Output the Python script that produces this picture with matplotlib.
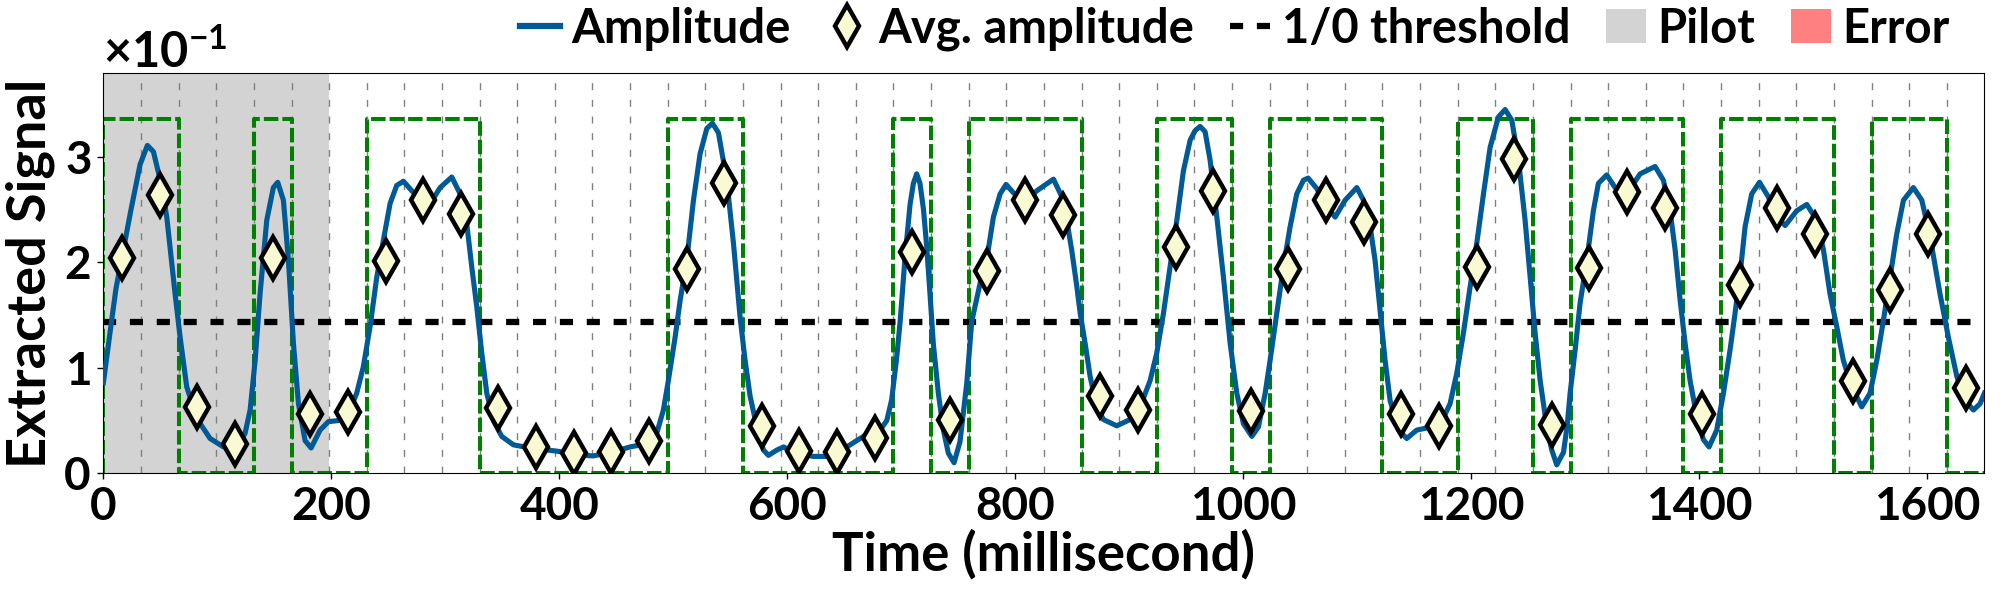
import numpy as np
import matplotlib
matplotlib.use('Agg')
import matplotlib.pyplot as plt
from matplotlib.lines import Line2D
from matplotlib.patches import Patch
from matplotlib.ticker import ScalarFormatter, MultipleLocator

FONT = 'Lato'
plt.rcParams['font.family'] = [FONT, 'DejaVu Sans']
plt.rcParams['font.weight'] = 'bold'
plt.rcParams['mathtext.fontset'] = 'custom'
plt.rcParams['mathtext.rm'] = FONT + ':bold'
plt.rcParams['mathtext.bf'] = FONT + ':bold'
plt.rcParams['mathtext.default'] = 'rm'

# ---------------- data ----------------
UNIT = 1e-1                 # values below are in units of 10^-1
BIT_MS = 33.0               # bit duration (ms)
PILOT_BITS = 6
X_MAX = 1650
Y_MAX = 3.8
THRESHOLD = 1.436
GT_HIGH = 3.36

BITS = [1, 1, 0, 0, 1, 0, 0, 1, 1, 1,
        0, 0, 0, 0, 0, 1, 1, 0, 0, 0,
        0, 1, 0, 1, 1, 1, 0, 0, 1, 1,
        0, 1, 1, 1, 0, 0, 1, 1, 0, 1,
        1, 1, 0, 1, 1, 1, 0, 1, 1, 0]

AVG_AMP = [2.04, 2.64, 0.63, 0.28, 2.04, 0.56, 0.58, 2.01, 2.59, 2.46,
           0.62, 0.25, 0.19, 0.20, 0.31, 1.94, 2.75, 0.45, 0.21, 0.20,
           0.33, 2.10, 0.51, 1.92, 2.59, 2.45, 0.73, 0.60, 2.15, 2.68,
           0.59, 1.94, 2.59, 2.38, 0.56, 0.45, 1.96, 2.98, 0.46, 1.95,
           2.67, 2.52, 0.56, 1.79, 2.52, 2.27, 0.88, 1.74, 2.27, 0.81]

AMP_T = [0, 6.0, 11.0, 16.1, 24.2, 32.2, 38.6, 43.9, 51.2, 55.6, 62.9, 67.3, 73.1,
         81.9, 93.6, 105.3, 117.0, 124.3, 128.7, 133.1, 137.4, 143.3, 149.1, 152.9,
         157.9, 162.3, 166.7, 171.1, 176.9, 182.2, 190.1, 197.4, 206.1, 214.9, 222.2,
         228.0, 233.9, 239.8, 245.6, 251.5, 257.3, 263.2, 270.5, 277.8, 285.1, 295.4,
         305.6, 312.9, 318.7, 323.1, 327.5, 331.9, 336.3, 342.1, 349.4, 359.6, 374.3,
         397.7, 421.1, 429.8, 447.4, 462.0, 476.6, 485.4, 491.2, 495.6, 501.5, 505.9,
         511.7, 517.6, 523.4, 529.3, 534.2, 539.5, 546.8, 552.7, 558.5, 562.9, 567.3,
         573.2, 579.0, 583.4, 590.7, 596.6, 608.3, 622.8, 637.5, 652.1, 666.7, 681.3,
         687.2, 691.5, 695.9, 698.9, 703.2, 707.6, 710.5, 713.4, 716.3, 719.3, 722.2,
         725.1, 728.0, 732.4, 736.8, 741.2, 746.2, 751.4, 757.3, 761.7, 769.0, 774.9,
         780.7, 786.6, 791.8, 798.3, 808.5, 818.8, 833.4, 842.2, 849.5, 853.9, 856.8,
         861.2, 865.5, 871.4, 877.2, 888.9, 900.6, 909.4, 918.2, 924.0, 929.9, 935.7,
         941.6, 947.4, 953.3, 957.6, 962.0, 966.4, 970.8, 976.7, 982.5, 988.4, 994.2,
         1000.0, 1007.4, 1013.2, 1019.1, 1023.4, 1029.3, 1035.1, 1041.0, 1046.8,
         1052.7, 1056.8, 1064.4, 1073.1, 1080.5, 1089.2, 1099.5, 1105.3, 1111.2,
         1115.5, 1119.9, 1124.3, 1128.7, 1136.0, 1143.3, 1152.1, 1160.9, 1172.6,
         1181.3, 1187.2, 1193.0, 1198.9, 1204.7, 1210.6, 1216.4, 1223.7, 1229.6,
         1235.4, 1241.3, 1247.1, 1251.5, 1255.9, 1260.3, 1266.1, 1270.5, 1274.9,
         1280.8, 1284.0, 1286.6, 1291.0, 1295.3, 1301.2, 1307.0, 1311.4, 1318.7,
         1326.0, 1336.3, 1348.0, 1361.1, 1368.4, 1374.3, 1378.7, 1383.1, 1387.5,
         1391.8, 1397.7, 1403.5, 1408.5, 1415.2, 1421.1, 1426.9, 1431.3, 1435.7,
         1440.1, 1445.9, 1452.7, 1460.6, 1467.9, 1475.2, 1485.4, 1494.2, 1503.0,
         1508.8, 1514.6, 1520.5, 1526.3, 1533.6, 1542.4, 1549.7, 1555.6, 1561.4,
         1567.3, 1573.1, 1579.0, 1587.7, 1595.1, 1602.4, 1611.1, 1618.4, 1625.8,
         1633.1, 1640.4, 1646.2, 1650.0]

AMP_V = [0.86, 1.35, 1.75, 2.04, 2.50, 2.93, 3.11, 3.05, 2.72, 2.43, 1.70, 1.29, 0.82,
         0.52, 0.33, 0.25, 0.24, 0.38, 0.60, 1.07, 1.70, 2.40, 2.71, 2.76,
         2.59, 2.02, 1.23, 0.66, 0.31, 0.24, 0.41, 0.49, 0.50, 0.57, 0.76,
         1.01, 1.39, 1.86, 2.21, 2.56, 2.73, 2.77, 2.68, 2.60, 2.53, 2.71,
         2.81, 2.65, 2.37, 1.96, 1.58, 1.14, 0.76, 0.50, 0.35, 0.27, 0.24,
         0.21, 0.17, 0.165, 0.205, 0.25, 0.28, 0.38, 0.60, 0.88, 1.29, 1.64,
         2.02, 2.59, 3.03, 3.27, 3.32, 3.23, 2.78, 2.18, 1.48, 1.07, 0.73,
         0.44, 0.22, 0.17, 0.22, 0.25, 0.19, 0.16, 0.16, 0.25, 0.35, 0.41,
         0.50, 0.70, 1.10, 1.44, 2.05, 2.55, 2.75, 2.84, 2.75, 2.51, 2.15,
         1.70, 1.23, 0.76, 0.41, 0.19, 0.10, 0.30, 0.85, 1.44, 1.80, 2.03,
         2.43, 2.65, 2.74, 2.66, 2.57, 2.68, 2.79, 2.59, 2.11, 1.77, 1.52,
         1.23, 0.92, 0.63, 0.51, 0.45, 0.51, 0.63, 0.88, 1.14, 1.52, 1.96,
         2.40, 2.87, 3.16, 3.25, 3.29, 3.24, 2.97, 2.43, 1.86, 1.23, 0.76,
         0.47, 0.35, 0.44, 0.76, 1.07, 1.52, 1.96, 2.34, 2.65,
         2.78, 2.80, 2.70, 2.53, 2.43, 2.59, 2.71, 2.59, 2.34,
         2.02, 1.55, 1.07, 0.69, 0.41, 0.33, 0.41, 0.43, 0.46,
         0.66, 0.95, 1.33, 1.77, 2.18, 2.65, 3.09, 3.38, 3.45,
         3.35, 2.97, 2.40, 1.86, 1.33, 0.88, 0.44, 0.22, 0.08,
         0.20, 0.45, 0.76, 1.17, 1.61, 2.02, 2.49, 2.75, 2.83,
         2.71, 2.65, 2.84, 2.91, 2.78, 2.49, 2.12, 1.64, 1.23,
         0.88, 0.54, 0.32, 0.25, 0.41, 0.76, 1.17, 1.52, 1.89,
         2.34, 2.65, 2.76, 2.62, 2.43, 2.35, 2.49, 2.55, 2.40,
         2.12, 1.70, 1.39, 1.07, 0.82, 0.63, 0.76, 1.07, 1.45,
         1.86, 2.27, 2.59, 2.71, 2.59, 2.24, 1.70, 1.29, 0.92,
         0.69, 0.60, 0.66, 0.76]

LABELS = ['Amplitude', 'Avg. amplitude', '1/0 threshold', 'Pilot', 'Error']
XTICKS = [0, 200, 400, 600, 800, 1000, 1200, 1400, 1600]

# ---------------- styles ----------------
C_AMP = '#005a96'
C_DIAMOND = '#fafad2'
C_PILOT = '#d3d3d3'
C_ERROR = '#ff8080'
C_GT = 'green'

n_bits = len(BITS)
bits = np.array(BITS, dtype=float)
edges = np.arange(n_bits + 1) * BIT_MS
centers = edges[:-1] + BIT_MS / 2

fig = plt.figure(figsize=(20, 6), dpi=100)
ax = fig.add_axes([0.0517, 0.2112, 0.9405, 0.6677])

ax.axvspan(0, PILOT_BITS * BIT_MS, color=C_PILOT, lw=0, zorder=0)
for e in edges[1:-1]:
    ax.axvline(e, color='gray', lw=1.0, dashes=(5, 7), zorder=1)

step_x = np.concatenate([[0], edges])
step_y = np.concatenate([[0], bits * GT_HIGH, [bits[-1] * GT_HIGH]]) * UNIT
ax.plot(step_x, step_y, color=C_GT, lw=2.9, dashes=(3.6, 1.0),
        drawstyle='steps-post', zorder=2)

ax.axhline(THRESHOLD * UNIT, color='black', lw=4.5, dashes=(2.1, 2.2), zorder=3)
ax.plot(AMP_T, np.array(AMP_V) * UNIT, color=C_AMP, lw=3.7, zorder=4,
        solid_joinstyle='round')
ax.plot(centers, np.array(AVG_AMP) * UNIT, ls='none', marker='d', ms=21,
        mfc=C_DIAMOND, mec='black', mew=3.2, zorder=5)

ax.set_xlim(0, X_MAX)
ax.set_ylim(0, Y_MAX * UNIT)
ax.set_xticks(XTICKS)
ax.yaxis.set_major_locator(MultipleLocator(UNIT))
sf = ScalarFormatter(useMathText=True)
sf.set_powerlimits((-1, -1))
ax.yaxis.set_major_formatter(sf)
ax.tick_params(labelsize=33, length=4, width=1, pad=5)
ax.yaxis.get_offset_text().set_fontsize(35)
ax.yaxis.get_offset_text().set_fontweight('bold')

ax.set_xlabel('Time (millisecond)', fontsize=38, fontweight='bold', labelpad=1)
ax.set_ylabel('Extracted Signal', fontsize=39, fontweight='bold', labelpad=6)

handles = [
    Line2D([], [], color=C_AMP, lw=4.5),
    Line2D([], [], ls='none', marker='d', ms=21, mfc=C_DIAMOND, mec='black', mew=3.2),
    Line2D([], [], color='black', lw=4.5, dashes=(2.1, 2.2)),
    Patch(facecolor=C_PILOT, edgecolor='none'),
    Patch(facecolor=C_ERROR, edgecolor='none'),
]
fig.legend(handles, LABELS, loc='center right', bbox_to_anchor=(0.975, 0.952),
           ncol=5, frameon=False, fontsize=34, handlelength=0.85,
           handleheight=0.72, handletextpad=0.25, columnspacing=0.75,
           borderpad=0, borderaxespad=0)

fig.savefig('out.png', dpi=100)
